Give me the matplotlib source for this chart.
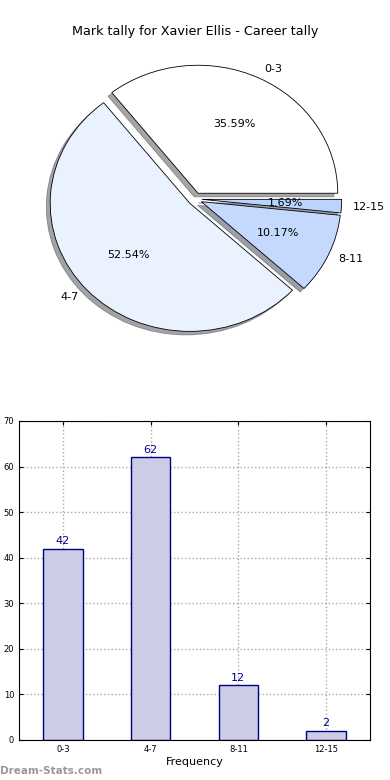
import matplotlib
matplotlib.use("Agg")
import matplotlib.pyplot as plt

# Data
categories = ["0-3", "4-7", "8-11", "12-15"]
counts = [42, 62, 12, 2]
pie_colors = ["#FFFFFF", "#EBF2FF", "#C5D9FF", "#B8D4FF"]
title = "Mark tally for Xavier Ellis - Career tally"

fig = plt.figure(figsize=(3.9, 7.8), dpi=100)

# Pie (elliptical, like the old-style chart)
ax_pie = fig.add_axes([0.0487, 0.5397, 0.9026, 0.4103])
wedges, texts, autotexts = ax_pie.pie(
    counts, labels=categories, colors=pie_colors, explode=[0.05] * 4,
    autopct="%.2f%%", shadow=True, startangle=0, labeldistance=1.08,
    wedgeprops={"edgecolor": "black", "linewidth": 0.6},
    textprops={"fontsize": 8},
)
ax_pie.set_aspect("auto")
ax_pie.set_xlim(-1.26, 1.26)
ax_pie.set_ylim(-1.25, 1.25)
ax_pie.set_title(title, fontsize=9.2, pad=3)

# Bar chart
ax_bar = fig.add_axes([0.0487, 0.0513, 0.9, 0.409])
x = range(len(categories))
bars = ax_bar.bar(x, counts, width=0.45, color="#CCCCE6", edgecolor="#000080",
                  linewidth=1, zorder=2)
for xi, v in zip(x, counts):
    ax_bar.text(xi, v + 0.6, str(v), ha="center", va="bottom",
                fontsize=8, color="#00008B")
ax_bar.set_xlim(-0.5, 3.5)
ax_bar.set_ylim(0, 70)
ax_bar.set_xticks(list(x))
ax_bar.set_xticklabels(categories)
ax_bar.set_yticks(range(0, 71, 10))
ax_bar.tick_params(labelsize=6, direction="in", top=True, right=True, length=3)
ax_bar.set_xlabel("Frequency", fontsize=8, labelpad=2)
ax_bar.grid(True, linestyle=":", color="#AAAAAA", linewidth=1, zorder=0)
ax_bar.set_axisbelow(True)

fig.text(0.0, 0.005, "Dream-Stats.com", fontsize=7.5, color="#999999",
         fontweight="bold", ha="left", va="bottom")

fig.savefig("out.png", dpi=100)
